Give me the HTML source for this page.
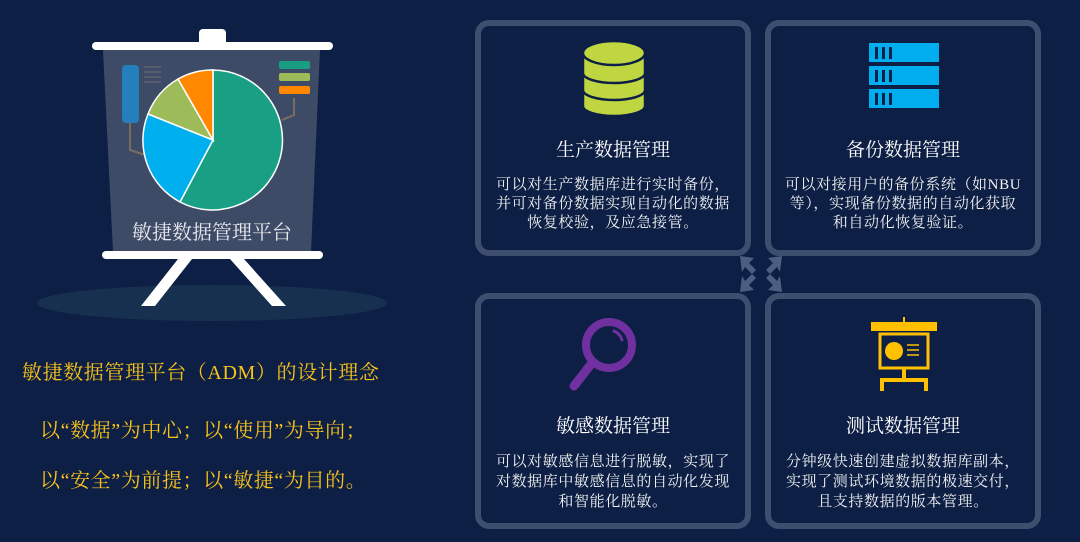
<!DOCTYPE html>
<html><head><meta charset="utf-8"><style>
body{margin:0;width:1080px;height:542px;background:#0d1f45;overflow:hidden;position:relative;font-family:"Liberation Serif","Noto Serif CJK SC",serif;}
.card{position:absolute;box-sizing:border-box;border:6px solid #3d4e6e;border-radius:14px;width:276px;height:236px;color:#fff;text-align:center}
.card h3{position:absolute;left:0;right:0;margin:0;font-weight:normal;font-size:19px;top:109px}
.card p{position:absolute;left:-10px;right:-10px;margin:0;font-size:15px;line-height:19px;top:150px;white-space:nowrap;letter-spacing:0.6px;color:#f2f2f2}
.y{position:absolute;color:#f7c21a;font-size:20px;white-space:nowrap;letter-spacing:0.6px}
</style></head><body>
<svg width="1080" height="542" style="position:absolute;left:0;top:0">
<ellipse cx="212" cy="303" rx="175" ry="18" fill="#17304f"/>
<polygon points="103,50 320,50 311,252 113,252" fill="#3e4b67"/>
<rect x="199" y="29" width="27" height="18" rx="4" fill="#fff"/>
<rect x="92" y="42" width="241" height="8" rx="4" fill="#fff"/>
<rect x="102" y="251" width="221" height="8" rx="4" fill="#fff"/>
<polygon points="178,259 192,259 155,306 141,306" fill="#fff"/>
<polygon points="230,259 244,259 286,306 272,306" fill="#fff"/>
<rect x="122" y="65" width="17" height="58" rx="4" fill="#247fbc"/>
<g stroke="#6e6e70" stroke-width="1"><line x1="144" y1="67" x2="161" y2="67"/><line x1="144" y1="72" x2="161" y2="72"/><line x1="144" y1="77" x2="161" y2="77"/><line x1="144" y1="82" x2="161" y2="82"/></g>
<polyline points="130,123 130,150 145,155" fill="none" stroke="#7a6e5f" stroke-width="2"/>
<polyline points="294,98 294,115 282,120" fill="none" stroke="#7a6e5f" stroke-width="2"/>
<rect x="279" y="61" width="31" height="8" rx="2" fill="#1a9e83"/>
<rect x="279" y="73" width="31" height="8" rx="2" fill="#9dbb58"/>
<rect x="279" y="86" width="31" height="8" rx="2" fill="#ff8800"/>
<g stroke="#fff" stroke-width="1.5">
<path d="M213,140 L213,70 A70,70 0 1,1 180,202 Z" fill="#19a084"/>
<path d="M213,140 L180,202 A70,70 0 0,1 148,114 Z" fill="#00b0ee"/>
<path d="M213,140 L148,114 A70,70 0 0,1 178,79 Z" fill="#9dbb58"/>
<path d="M213,140 L178,79 A70,70 0 0,1 213,70 Z" fill="#ff8800"/>
</g>
<text x="212" y="239" fill="#e8e8ee" font-size="20" text-anchor="middle" font-family="Liberation Serif, Noto Serif CJK SC, serif">敏捷数据管理平台</text>
<g fill="#4a5f82">
<polygon points="740,256 754,258 749,263 756,270 752,274 745,267 742,272"/>
<polygon points="782,256 768,258 773,263 766,270 770,274 777,267 780,272"/>
<polygon points="740,292 754,290 749,285 756,278 752,274 745,281 742,276"/>
<polygon points="782,292 768,290 773,285 766,278 770,274 777,281 780,276"/>
</g>
<g fill="#bfd641" stroke="#0d1f45" stroke-width="2.5">
<path d="M583,92 v14 a31,10 0 0,0 62,0 v-14 z"/>
<path d="M583,74 v16 a31,10 0 0,0 62,0 v-16 z"/>
<path d="M583,56 v17 a31,10 0 0,0 62,0 v-17 z"/>
<ellipse cx="614" cy="53" rx="31" ry="12"/>
</g>
<g fill="#00aeef"><rect x="869" y="43" width="70" height="19"/><rect x="869" y="66" width="70" height="19"/><rect x="869" y="89" width="70" height="19"/></g>
<g fill="#0d1f45"><rect x="875" y="47" width="3" height="12"/><rect x="882" y="47" width="3" height="12"/><rect x="889" y="47" width="3" height="12"/>
<rect x="875" y="70" width="3" height="12"/><rect x="882" y="70" width="3" height="12"/><rect x="889" y="70" width="3" height="12"/>
<rect x="875" y="93" width="3" height="12"/><rect x="882" y="93" width="3" height="12"/><rect x="889" y="93" width="3" height="12"/></g>
<circle cx="609" cy="345" r="23" fill="none" stroke="#7030a0" stroke-width="8"/>
<line x1="592" y1="363" x2="574" y2="386" stroke="#7030a0" stroke-width="9" stroke-linecap="round"/>
<path d="M614,331 a14,14 0 0,1 8,9" stroke="#7030a0" stroke-width="3" fill="none" stroke-linecap="round"/>
<g fill="#ffc000"><rect x="871" y="322" width="66" height="9"/><rect x="903" y="317" width="2" height="6"/>
<rect x="902" y="368" width="4" height="10"/><rect x="880" y="378" width="48" height="4"/><rect x="880" y="378" width="4" height="13"/><rect x="924" y="378" width="4" height="13"/></g>
<rect x="880" y="334" width="48" height="34" fill="none" stroke="#ffc000" stroke-width="3"/>
<circle cx="894" cy="351" r="9" fill="#ffc000"/>
<g stroke="#ffc000" stroke-width="1.5"><line x1="907" y1="345" x2="919" y2="345"/><line x1="907" y1="350" x2="919" y2="350"/><line x1="907" y1="355" x2="919" y2="355"/></g>
</svg>
<div class="card" style="left:475px;top:20px"><h3>生产数据管理</h3><p>可以对生产数据库进行实时备份，<br>并可对备份数据实现自动化的数据<br>恢复校验，及应急接管。</p></div>
<div class="card" style="left:765px;top:20px"><h3>备份数据管理</h3><p>可以对接用户的备份系统（如NBU<br>等），实现备份数据的自动化获取<br>和自动化恢复验证。</p></div>
<div class="card" style="left:475px;top:293px"><h3 style="top:112px">敏感数据管理</h3><p style="top:153px;line-height:20px">可以对敏感信息进行脱敏，实现了<br>对数据库中敏感信息的自动化发现<br>和智能化脱敏。</p></div>
<div class="card" style="left:765px;top:293px"><h3 style="top:112px">测试数据管理</h3><p style="top:153px;line-height:20px">分钟级快速创建虚拟数据库副本，<br>实现了测试环境数据的极速交付，<br>且支持数据的版本管理。</p></div>
<div class="y" style="left:22px;top:356px">敏捷数据管理平台（ADM）的设计理念</div>
<div class="y" style="left:40px;top:414px">以“数据”为中心；以“使用”为导向；</div>
<div class="y" style="left:40px;top:464px">以“安全”为前提；以“敏捷“为目的。</div>
</body></html>
